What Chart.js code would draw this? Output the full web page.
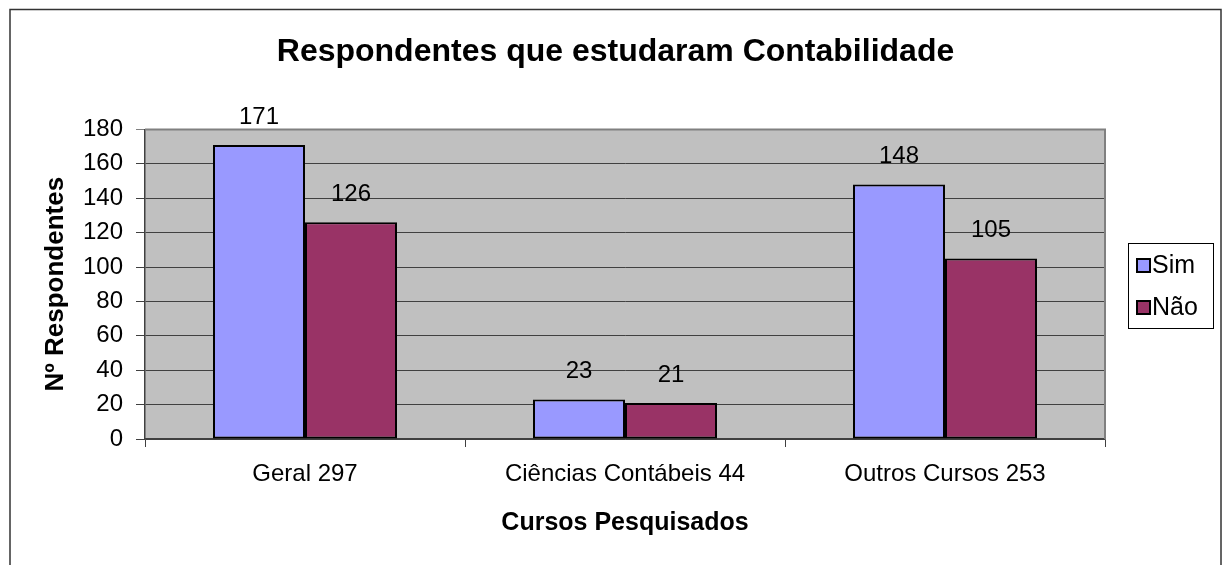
<!DOCTYPE html>
<html>
<head>
<meta charset="utf-8">
<title>Respondentes que estudaram Contabilidade</title>
<script src="https://cdn.jsdelivr.net/npm/chart.js@4.4.1/dist/chart.umd.min.js"></script>
<style>
    html, body { margin: 0; padding: 0; background: #fff; overflow: hidden; }
    #wrap { width: 1222px; height: 565px; position: relative; }
</style>
</head>
<body>
<div id="wrap"><canvas id="chart"></canvas></div>
<script>
var categories = ['Geral 297', 'Ciências Contábeis 44', 'Outros Cursos 253'];
var simValues = [171, 23, 148];
var naoValues = [126, 21, 105];
var seriesNames = ['Sim', 'Não'];
var yTicks = [0, 20, 40, 60, 80, 100, 120, 140, 160, 180];

var FONT = 'Arial, "Liberation Sans", sans-serif';

// value labels above each bar
var barLabels = {
    id: 'barLabels',
    afterDatasetsDraw: function (chart) {
        var ctx = chart.ctx;
        ctx.save();
        ctx.font = '24px ' + FONT;
        ctx.fillStyle = '#000';
        ctx.textAlign = 'center';
        ctx.textBaseline = 'middle';
        chart.data.datasets.forEach(function (ds, i) {
            chart.getDatasetMeta(i).data.forEach(function (bar, j) {
                ctx.fillText(String(ds.data[j]), bar.x, bar.y - 28);
            });
        });
        ctx.restore();
    }
};

// plot background, frame, outer border and legend box
var frame = {
    id: 'frame',
    beforeDraw: function (chart) {
        var a = chart.chartArea, ctx = chart.ctx;
        ctx.save();
        ctx.fillStyle = '#C0C0C0';
        ctx.fillRect(a.left, a.top, a.right - a.left, a.bottom - a.top);
        ctx.restore();
    },
    beforeDatasetsDraw: function (chart) {
        var a = chart.chartArea, ctx = chart.ctx;
        ctx.save();
        ctx.strokeStyle = '#808080';
        ctx.lineWidth = 2;
        ctx.beginPath();
        ctx.moveTo(a.left, a.top);
        ctx.lineTo(a.right, a.top);
        ctx.lineTo(a.right, a.bottom);
        ctx.stroke();
        ctx.restore();
    },
    afterDraw: function (chart) {
        var ctx = chart.ctx;
        ctx.save();
        ctx.strokeStyle = '#333';
        ctx.lineWidth = 1.5;
        ctx.strokeRect(10, 9.5, 1211, 600);

        // legend
        ctx.strokeStyle = '#000';
        ctx.lineWidth = 1;
        ctx.strokeRect(1128.5, 243.5, 85, 85);
        ctx.font = '25px ' + FONT;
        ctx.textBaseline = 'middle';
        ctx.textAlign = 'left';
        var rows = [265, 307];
        chart.data.datasets.forEach(function (ds, i) {
            var cy = rows[i];
            ctx.fillStyle = ds.backgroundColor;
            ctx.fillRect(1137, cy - 6, 13, 13);
            ctx.lineWidth = 2;
            ctx.strokeRect(1137, cy - 6, 13, 13);
            ctx.fillStyle = '#000';
            ctx.fillText(ds.label, 1152, cy + 1);
        });
        ctx.restore();
    }
};

new Chart(document.getElementById('chart'), {
    type: 'bar',
    data: {
        labels: categories,
        datasets: [
            { label: seriesNames[0], data: simValues, backgroundColor: '#9999FF', borderColor: '#000', borderWidth: 2, borderSkipped: false, categoryPercentage: 0.575, barPercentage: 1.0 },
            { label: seriesNames[1], data: naoValues, backgroundColor: '#993366', borderColor: '#000', borderWidth: 2, borderSkipped: false, categoryPercentage: 0.575, barPercentage: 1.0 }
        ]
    },
    options: {
        responsive: true, maintainAspectRatio: false, animation: false,
        layout: { padding: { left: 10, right: 1, top: 0, bottom: 0 } },
        plugins: {
            legend: { display: false },
            tooltip: { enabled: false },
            title: {
                display: true, text: 'Respondentes que estudaram Contabilidade', color: '#000',
                font: { family: FONT, size: 32, weight: 'bold' }, padding: { top: 33, bottom: 58 }
            }
        },
        scales: {
            x: {
                grid: { offset: true, drawOnChartArea: false, tickLength: 8, color: '#404040' },
                border: { color: '#404040', width: 1.5 },
                ticks: { color: '#000', font: { family: FONT, size: 24 }, padding: 13, maxRotation: 0, autoSkip: false },
                title: { display: true, text: 'Cursos Pesquisados', color: '#000', font: { family: FONT, size: 25, weight: 'bold' }, padding: { top: 0, bottom: 27 } },
                afterFit: function (s) { s.height = 126; }
            },
            y: {
                min: 0, max: 180,
                afterBuildTicks: function (s) { s.ticks = yTicks.map(function (v) { return { value: v }; }); },
                grid: {
                    tickLength: 9,
                    color: function (c) { return c.tick && c.tick.value === 180 ? '#808080' : '#404040'; }
                },
                border: { color: '#404040', width: 1.5 },
                ticks: { color: '#000', font: { family: FONT, size: 24 }, padding: 13 },
                title: { display: true, text: 'Nº Respondentes', color: '#000', font: { family: FONT, size: 26, weight: 'bold' }, padding: { top: 30, bottom: 0 } },
                afterFit: function (s) { s.width = 135; }
            },
            pad: {
                type: 'linear', position: 'right', display: true,
                grid: { display: false }, border: { display: false }, ticks: { display: false },
                afterFit: function (s) { s.width = 116; }
            }
        }
    },
    plugins: [frame, barLabels]
});
</script>
</body>
</html>
